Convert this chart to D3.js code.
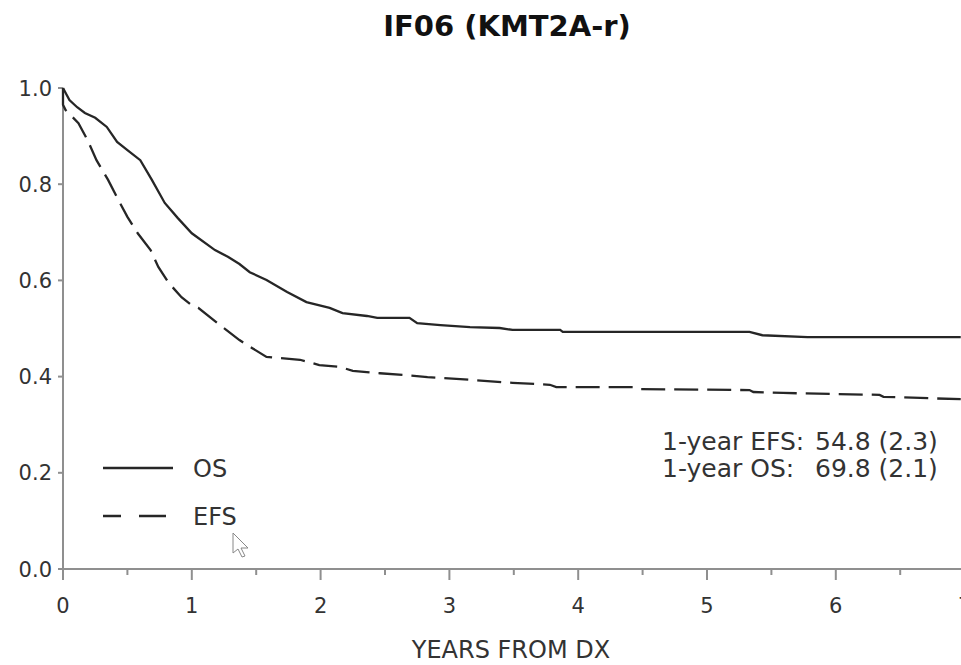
<!DOCTYPE html>
<html>
<head>
<meta charset="utf-8">
<script src="https://cdn.jsdelivr.net/npm/d3@7"></script>
<style>
  html,body{margin:0;padding:0;background:#fff;}
  svg{display:block;font-family:"DejaVu Sans",Verdana,sans-serif;}
  .axis-line{stroke:#8f8f8f;stroke-width:2;fill:none;}
  .tick-lab{fill:#333;font-size:21px;}
  .curve{fill:none;stroke:#262626;stroke-width:2.3;}
  .dash{stroke-dasharray:24 9;}
</style>
</head>
<body>
<svg id="chart" width="961" height="665"></svg>
<script>
// Kaplan-Meier estimates: [years from dx, survival]
const osPts = [
  [0,1.0],[0.05,0.975],[0.11,0.96],[0.17,0.948],[0.25,0.938],[0.34,0.919],
  [0.42,0.888],[0.5,0.871],[0.6,0.85],[0.69,0.809],[0.79,0.761],[0.89,0.73],
  [1.0,0.698],[1.18,0.663],[1.28,0.649],[1.37,0.634],[1.45,0.617],[1.58,0.601],
  [1.74,0.576],[1.89,0.555],[2.07,0.543],[2.17,0.532],[2.36,0.526],[2.44,0.522],
  [2.69,0.522],[2.75,0.511],[2.93,0.507],[3.16,0.503],[3.39,0.501],[3.49,0.497],
  [3.86,0.497],[3.88,0.493],[5.33,0.493],[5.43,0.486],[5.78,0.482],[6.97,0.482]
];
const efsPts = [
  [0,1.0],[0,0.965],[0.02,0.954],[0.12,0.927],[0.19,0.892],[0.26,0.85],
  [0.35,0.809],[0.43,0.767],[0.5,0.732],[0.58,0.698],[0.68,0.663],[0.74,0.628],
  [0.82,0.595],[0.92,0.565],[1.0,0.548],[1.05,0.543],[1.2,0.511],[1.37,0.476],
  [1.47,0.459],[1.58,0.441],[1.66,0.439],[1.84,0.435],[1.99,0.424],[2.15,0.42],
  [2.25,0.412],[2.46,0.407],[2.67,0.403],[2.83,0.399],[2.95,0.397],[3.18,0.393],
  [3.49,0.387],[3.78,0.383],[3.83,0.378],[4.43,0.378],[4.46,0.374],[5.33,0.372],
  [5.36,0.368],[5.59,0.366],[6.34,0.362],[6.37,0.358],[6.97,0.353]
];
const xTicks = [0,1,2,3,4,5,6,7];
const xMinor = [0.5,1.5,2.5,3.5,4.5,5.5,6.5];
const yTicks = [0,0.2,0.4,0.6,0.8,1.0];
const legendItems = [{label:'OS',dash:false},{label:'EFS',dash:true}];
const notes = [['1-year EFS:','54.8 (2.3)'],['1-year OS:','69.8 (2.1)']];
const title = 'IF06 (KMT2A-r)';
const xTitle = 'YEARS FROM DX';

const svg = d3.select('#chart');
const x = d3.scaleLinear().domain([0,7]).range([63,964.6]);
const y = d3.scaleLinear().domain([0,1]).range([569,88]);

svg.append('text').attr('x',507).attr('y',36).attr('text-anchor','middle')
  .attr('font-weight','bold').attr('font-size',29).attr('fill','#111').text(title);

// axes
svg.append('line').attr('class','axis-line').attr('x1',x(0)).attr('x2',x(0)).attr('y1',y(0)).attr('y2',y(1));
svg.append('line').attr('class','axis-line').attr('x1',x(0)).attr('x2',961).attr('y1',y(0)).attr('y2',y(0));

svg.selectAll('.ytick').data(yTicks).join('line').attr('class','axis-line')
  .attr('x1',x(0)-5).attr('x2',x(0)).attr('y1',d=>y(d)).attr('y2',d=>y(d));
svg.selectAll('.ylab').data(yTicks).join('text').attr('class','tick-lab')
  .attr('x',52).attr('y',d=>y(d)).attr('dy','0.36em').attr('text-anchor','end')
  .text(d3.format('.1f'));

svg.selectAll('.xtick').data(xTicks.filter(d=>x(d)<961)).join('line').attr('class','axis-line')
  .attr('x1',d=>x(d)).attr('x2',d=>x(d)).attr('y1',y(0)).attr('y2',y(0)+11);
svg.selectAll('.xminor').data(xMinor).join('line').attr('class','axis-line')
  .attr('x1',d=>x(d)).attr('x2',d=>x(d)).attr('y1',y(0)).attr('y2',y(0)+6);
svg.selectAll('.xlab').data(xTicks).join('text').attr('class','tick-lab')
  .attr('x',d=>x(d)).attr('y',613).attr('text-anchor','middle').text(d=>d);

svg.append('text').attr('x',511).attr('y',658).attr('text-anchor','middle')
  .attr('font-size',24).attr('fill','#333').text(xTitle);

// curves
const line = d3.line().x(d=>x(d[0])).y(d=>y(d[1]));
svg.append('path').attr('class','curve').attr('d',line(osPts));
svg.append('path').attr('class','curve dash').attr('d',line(efsPts));

// legend
const lg = svg.append('g');
legendItems.forEach((it,i)=>{
  const yy = 468 + i*48;
  lg.append('line').attr('class','curve').attr('x1',103).attr('x2',it.dash?166:173)
    .attr('y1',yy).attr('y2',yy).attr('stroke-dasharray',it.dash?'18 18 28':null)
    .attr('stroke','#444').attr('stroke-width',2);
  lg.append('text').attr('x',193).attr('y',yy+9).attr('font-size',24).attr('fill','#333').text(it.label);
});

// 1-year estimates
notes.forEach((n,i)=>{
  const yy = 450 + i*27;
  svg.append('text').attr('x',662).attr('y',yy).attr('font-size',25).attr('fill','#333').text(n[0]);
  svg.append('text').attr('x',815).attr('y',yy).attr('font-size',25).attr('fill','#333').text(n[1]);
});

// mouse pointer left in the screenshot
svg.append('path').attr('transform','translate(233,533)')
  .attr('d','M0,0 L0,20 L5,16 L9,24 L12,23 L8,15 L15,15 Z')
  .attr('fill','#fff').attr('stroke','#888').attr('stroke-width',1);
</script>
</body>
</html>
